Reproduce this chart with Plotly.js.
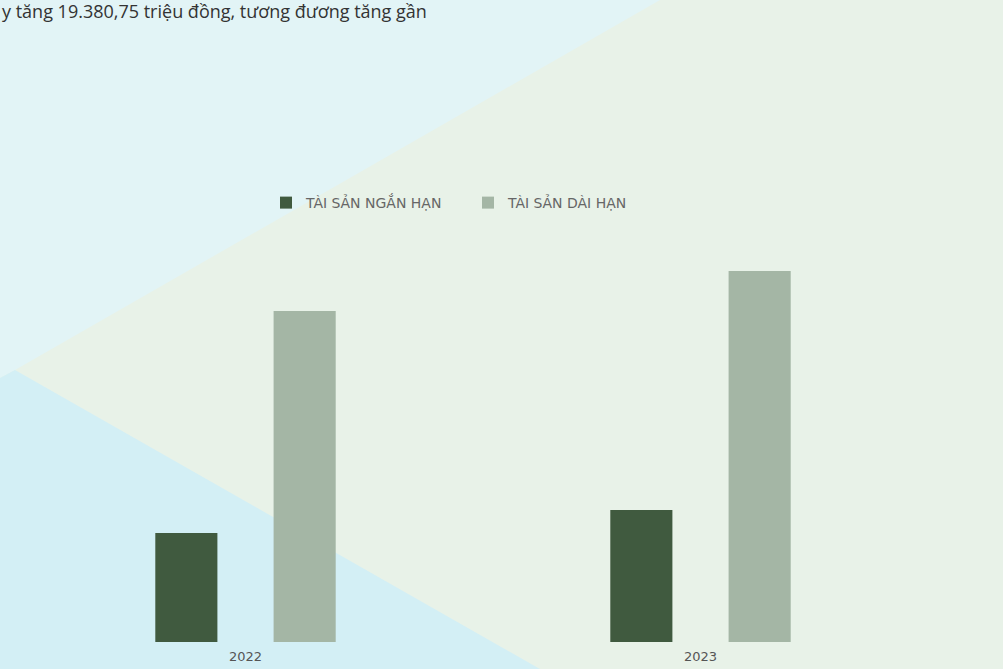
<!DOCTYPE html>
<html>
<head>
<meta charset="utf-8">
<script src="https://cdn.plot.ly/plotly-3.0.1.min.js"></script>
<style>html,body{margin:0;padding:0;background:#e8f2ea;}#chart{width:1003px;height:669px;}</style>
</head>
<body>
<div id="chart"></div>
<script>
// Data (triệu đồng)
const years = ['2022', '2023'];
const shortTermAssets = [33500, 40600];
const longTermAssets = [101800, 114100];
const seriesNames = ['TÀI SẢN NGẮN HẠN', 'TÀI SẢN DÀI HẠN'];
const headerText = 'y tăng 19.380,75 triệu đồng, tương đương tăng gần';

// pixel -> paper helpers for background decoration
const L = 18, W = 910, B = 642, H = 412;
const px = x => ((x - L) / W).toFixed(4);
const py = y => ((B - y) / H).toFixed(4);
function poly(pts) {
  return 'M' + pts.map(p => px(p[0]) + ',' + py(p[1])).join(' L') + ' Z';
}

const traces = [
  {type: 'bar', x: years, y: shortTermAssets, name: seriesNames[0],
   marker: {color: '#405a3f'}, hoverinfo: 'x+y+name'},
  {type: 'bar', x: years, y: longTermAssets, name: seriesNames[1],
   marker: {color: '#a4b6a5'}, hoverinfo: 'x+y+name'}
];

const layout = {
  width: 1003, height: 669,
  margin: {l: L, r: 1003 - L - W, t: 669 - H - (669 - B), b: 669 - B},
  paper_bgcolor: '#e8f2e8',
  plot_bgcolor: 'rgba(0,0,0,0)',
  barmode: 'group',
  bargap: 0.48,
  bargroupgap: 0.475,
  showlegend: true,
  legend: {orientation: 'h', x: 0.2725, xanchor: 'left', y: 1.0655, yanchor: 'middle',
           font: {family: 'DejaVu Sans, sans-serif', size: 14, color: '#666666'},
           entrywidth: 157, entrywidthmode: 'pixels',
           traceorder: 'normal', bgcolor: 'rgba(0,0,0,0)'},
  title: {text: headerText, x: 0, xref: 'container', xanchor: 'left',
          y: 0.992, yref: 'container', yanchor: 'top', pad: {t: 0, l: 2},
          font: {family: 'Open Sans, sans-serif', size: 18, color: '#333333'}},
  xaxis: {type: 'category', range: [-0.5, 1.5], showgrid: false, zeroline: false,
          showline: false, ticks: '', ticklabelstandoff: 5,
          tickfont: {family: 'DejaVu Sans, sans-serif', size: 13, color: '#555555'}},
  yaxis: {range: [0, 126700], visible: false, showgrid: false, zeroline: false},
  shapes: [
    {type: 'path', xref: 'paper', yref: 'paper', layer: 'below', line: {width: 0},
     fillcolor: '#e2f4f6', path: poly([[0, 0], [660, 0], [15, 370], [0, 378]])},
    {type: 'path', xref: 'paper', yref: 'paper', layer: 'below', line: {width: 0},
     fillcolor: '#d3eff5', path: poly([[0, 378], [15, 370], [540, 669], [0, 669]])}
  ]
};

Plotly.newPlot('chart', traces, layout, {displayModeBar: false, staticPlot: true});
</script>
</body>
</html>
